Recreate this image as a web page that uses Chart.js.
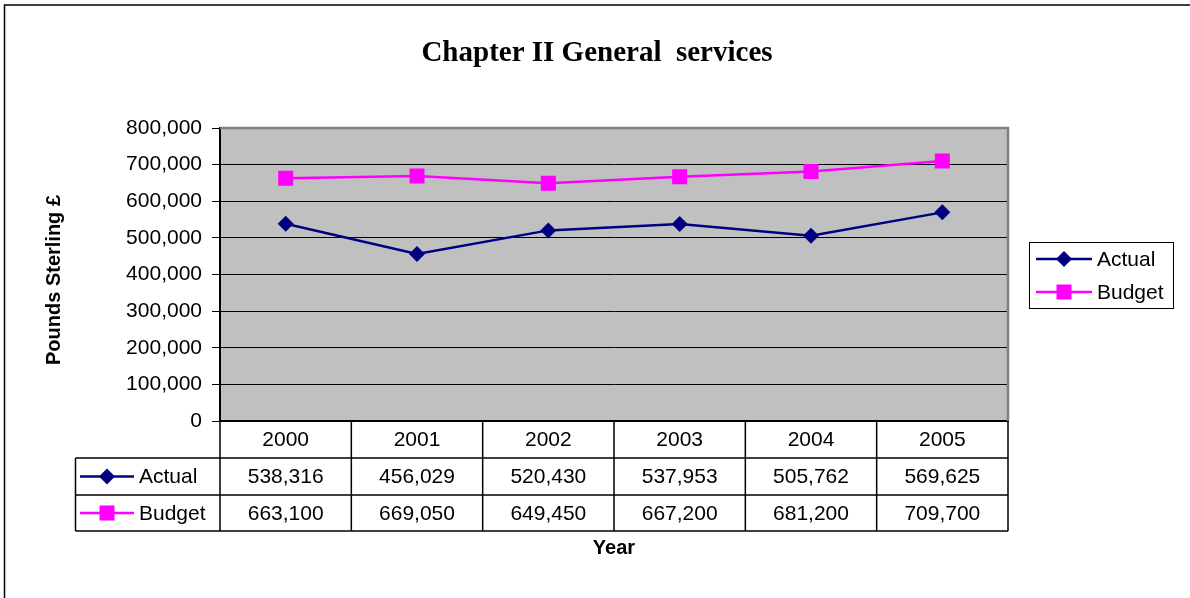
<!DOCTYPE html>
<html>
<head>
<meta charset="utf-8">
<script src="https://cdn.jsdelivr.net/npm/chart.js@4.4.1/dist/chart.umd.min.js"></script>
<style>
body { margin: 0; background: #fff; }
#wrap { width: 1190px; height: 598px; }
</style>
</head>
<body>
<div id="wrap"><canvas id="chart"></canvas></div>
<script>
// Data
const years = ["2000", "2001", "2002", "2003", "2004", "2005"];
const actual = [538316, 456029, 520430, 537953, 505762, 569625];
const budget = [663100, 669050, 649450, 667200, 681200, 709700];
const yTicks = [0, 100000, 200000, 300000, 400000, 500000, 600000, 700000, 800000];

const seriesNames = ["Actual", "Budget"];
const seriesColors = ["#000080", "#ff00ff"];
const seriesValues = [actual, budget];

const SANS = "'Liberation Sans', Arial, sans-serif";
const fmt = v => v.toLocaleString('en-US');

// draws a little line + marker like the excel legend key
function drawKey(ctx, x1, x2, y, i) {
    ctx.strokeStyle = seriesColors[i];
    ctx.fillStyle = seriesColors[i];
    ctx.lineWidth = 2.5;
    ctx.beginPath();
    ctx.moveTo(x1, y);
    ctx.lineTo(x2, y);
    ctx.stroke();
    const cx = (x1 + x2) / 2;
    ctx.beginPath();
    if (i === 0) {
        ctx.moveTo(cx, y - 8);
        ctx.lineTo(cx + 8, y);
        ctx.lineTo(cx, y + 8);
        ctx.lineTo(cx - 8, y);
        ctx.closePath();
    } else {
        ctx.rect(cx - 7.5, y - 7.5, 15, 15);
    }
    ctx.fill();
}

const frame = {
    id: 'frame',
    beforeDraw(chart) {
        const { ctx, chartArea: a } = chart;
        ctx.save();
        ctx.fillStyle = '#fff';
        ctx.fillRect(0, 0, chart.width, chart.height);
        ctx.strokeStyle = '#000';
        ctx.lineWidth = 1.5;
        ctx.beginPath();
        ctx.moveTo(4.5, chart.height);
        ctx.lineTo(4.5, 5);
        ctx.lineTo(chart.width, 5);
        ctx.stroke();
        ctx.fillStyle = '#c0c0c0';
        ctx.fillRect(a.left, a.top, a.right - a.left, a.bottom - a.top);
        // title
        ctx.fillStyle = '#000';
        ctx.font = "bold 29px 'Liberation Serif', 'Times New Roman', serif";
        ctx.textAlign = 'center';
        ctx.textBaseline = 'middle';
        ctx.fillText("Chapter II General  services", 597, 54);
        // y axis title
        ctx.save();
        ctx.translate(54, 280);
        ctx.rotate(-Math.PI / 2);
        ctx.font = "bold 20px " + SANS;
        ctx.fillText("Pounds Sterling £", 0, 0);
        ctx.restore();
        ctx.restore();
    },
    afterDraw(chart) {
        const { ctx, chartArea: a } = chart;
        ctx.save();
        // plot border top / right
        ctx.strokeStyle = '#808080';
        ctx.lineWidth = 2.5;
        ctx.beginPath();
        ctx.moveTo(a.left, a.top);
        ctx.lineTo(a.right, a.top);
        ctx.lineTo(a.right, a.bottom);
        ctx.stroke();

        // data table
        const n = years.length;
        const colW = (a.right - a.left) / n;
        const top = a.bottom;
        const r1 = top + 37, r2 = r1 + 37, r3 = r2 + 36;
        const keyLeft = 75.5;
        ctx.strokeStyle = '#000';
        ctx.lineWidth = 1.5;
        ctx.beginPath();
        for (let i = 0; i <= n; i++) {
            const xx = a.left + i * colW;
            ctx.moveTo(xx, top);
            ctx.lineTo(xx, r3);
        }
        [r1, r2, r3].forEach(yy => {
            ctx.moveTo(keyLeft, yy);
            ctx.lineTo(a.right, yy);
        });
        ctx.moveTo(keyLeft, r1);
        ctx.lineTo(keyLeft, r3);
        ctx.stroke();

        ctx.fillStyle = '#000';
        ctx.font = "21px " + SANS;
        ctx.textAlign = 'center';
        ctx.textBaseline = 'middle';
        years.forEach((y, i) => {
            const cx = a.left + (i + 0.5) * colW;
            ctx.fillText(y, cx, (top + r1) / 2 + 1);
            ctx.fillText(fmt(actual[i]), cx, (r1 + r2) / 2 + 1);
            ctx.fillText(fmt(budget[i]), cx, (r2 + r3) / 2 + 1);
        });
        const rowMid = [(r1 + r2) / 2, (r2 + r3) / 2];
        seriesNames.forEach((name, i) => {
            drawKey(ctx, 80, 134, rowMid[i], i);
            ctx.fillStyle = '#000';
            ctx.textAlign = 'left';
            ctx.fillText(name, 139, rowMid[i] + 1);
        });

        // x axis title
        ctx.font = "bold 20px " + SANS;
        ctx.textAlign = 'center';
        ctx.fillText("Year", 614, 548);

        // legend box
        ctx.strokeStyle = '#000';
        ctx.lineWidth = 1;
        ctx.fillStyle = '#fff';
        ctx.fillRect(1029.5, 242.5, 144, 66);
        ctx.strokeRect(1029.5, 242.5, 144, 66);
        const legY = [259, 292];
        seriesNames.forEach((name, i) => {
            drawKey(ctx, 1036, 1092, legY[i], i);
            ctx.fillStyle = '#000';
            ctx.font = "21px " + SANS;
            ctx.textAlign = 'left';
            ctx.fillText(name, 1097, legY[i] + 1);
        });
        ctx.restore();
    }
};

new Chart(document.getElementById('chart'), {
    type: 'line',
    data: {
        labels: years,
        datasets: seriesNames.map((name, i) => ({
            label: name,
            data: seriesValues[i],
            borderColor: seriesColors[i],
            backgroundColor: seriesColors[i],
            borderWidth: 2.5,
            pointStyle: i === 0 ? 'rectRot' : 'rect',
            pointRadius: i === 0 ? 8 : 10.6,
            pointHoverRadius: i === 0 ? 8 : 10.6,
            pointBorderWidth: 0,
            tension: 0,
            fill: false
        }))
    },
    options: {
        responsive: true,
        maintainAspectRatio: false,
        animation: false,
        layout: { padding: { top: 128, right: 182, bottom: 177, left: 0 } },
        plugins: {
            legend: { display: false },
            title: { display: false },
            tooltip: { enabled: false }
        },
        scales: {
            x: {
                offset: true,
                ticks: { display: false },
                grid: { display: false, drawTicks: false },
                border: { display: true, color: '#000', width: 2 },
                afterFit: (scale) => { scale.height = 0; }
            },
            y: {
                min: yTicks[0],
                max: yTicks[yTicks.length - 1],
                afterFit: (scale) => { scale.width = 220; },
                afterBuildTicks: (scale) => { scale.ticks = yTicks.map(v => ({ value: v })); },
                ticks: {
                    color: '#000',
                    padding: 10,
                    font: { family: SANS, size: 21 },
                    callback: v => fmt(v)
                },
                grid: {
                    color: ctx => ctx.tick && ctx.tick.value === yTicks[yTicks.length - 1] ? '#808080' : '#000',
                    tickColor: '#000',
                    tickLength: 8,
                    lineWidth: 1
                },
                border: { color: '#000', width: 2 },
                title: { display: false }
            }
        }
    },
    plugins: [frame]
});
</script>
</body>
</html>
